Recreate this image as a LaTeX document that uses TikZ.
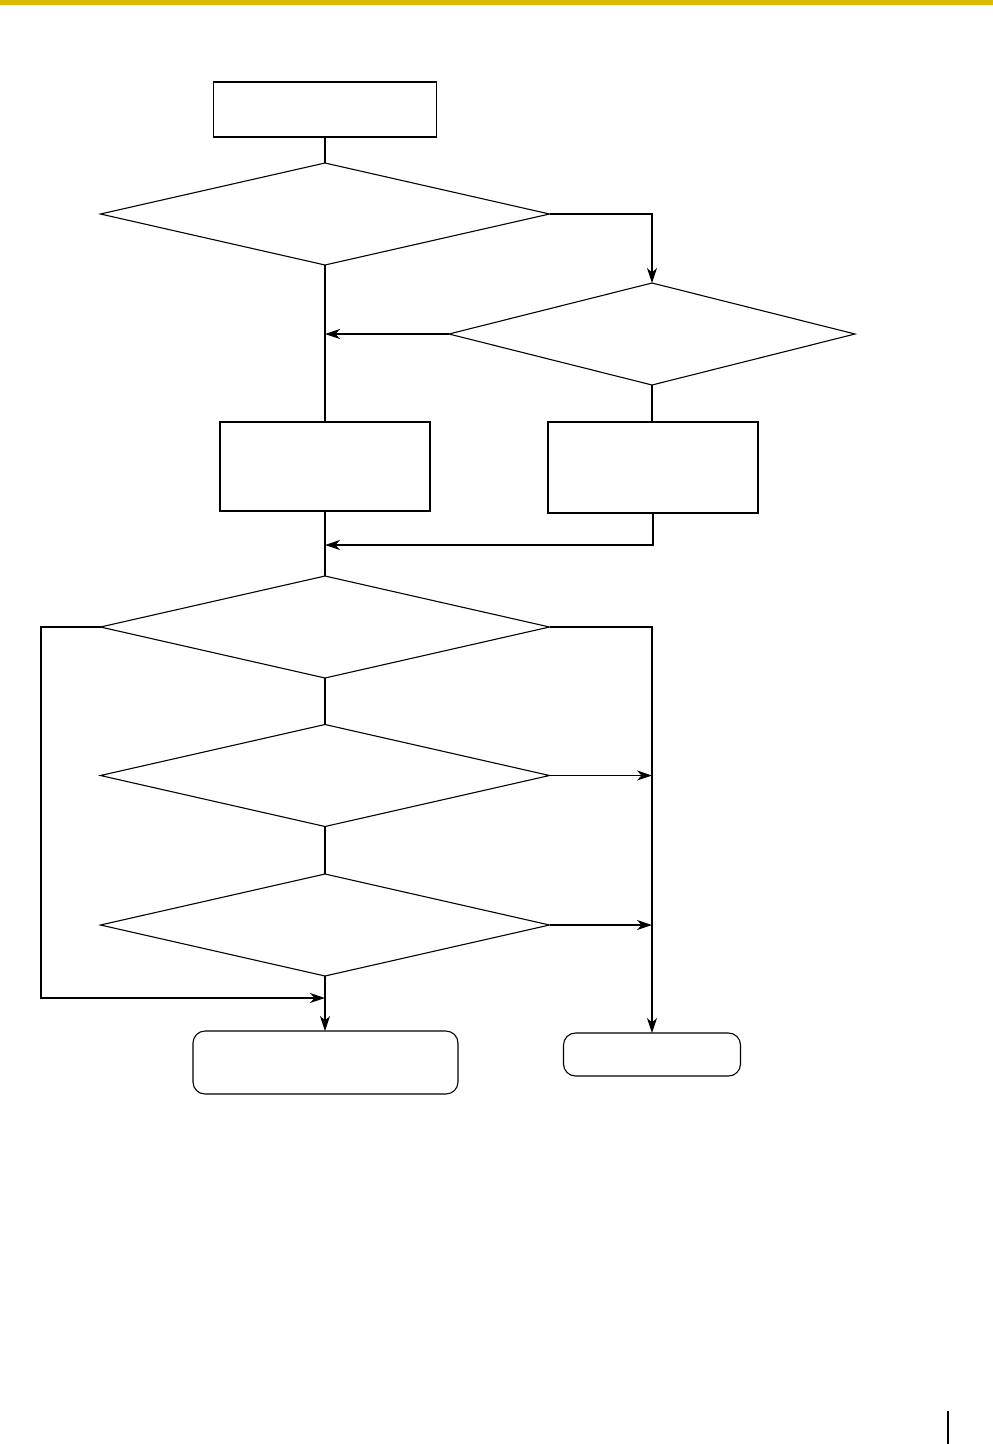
\documentclass[tikz,border=0pt]{standalone}
\usetikzlibrary{shapes.geometric,arrows.meta}
\definecolor{bar}{RGB}{222,183,0}
\begin{document}
\begin{tikzpicture}[x=1pt,y=-1pt,
  every node/.style={draw,line width=1.1pt,inner sep=0pt,outer sep=0pt},
  dec/.style={diamond,minimum width=449pt,minimum height=102pt},
  proc/.style={rectangle},
  term/.style={rectangle,rounded corners=12pt},
  ln/.style={line width=1.1pt},
  ar/.style={line width=1.1pt,-{Stealth[length=15pt,width=10pt,inset=4.5pt]}}]
\useasboundingbox (0,0) rectangle (993,1444);
\fill[bar] (0,0) rectangle (993,5);
\draw[line width=2pt] (948,1411) -- (948,1444);
% nodes
\node[proc,minimum width=223pt,minimum height=55pt] (start) at (325,109.5) {};
\node[dec] (d1) at (325,214) {};
\node[dec,minimum width=406pt] (d2) at (652,334) {};
\node[proc,minimum width=210pt,minimum height=89pt] (p1) at (325,466.5) {};
\node[proc,minimum width=210pt,minimum height=91pt] (p2) at (653,467.5) {};
\node[dec] (d3) at (325,627) {};
\node[dec] (d4) at (325,775.5) {};
\node[dec] (d5) at (325,925) {};
\node[term,minimum width=265pt,minimum height=63pt] (e1) at (325.5,1062.5) {};
\node[term,minimum width=177pt,minimum height=43pt] (e2) at (652,1054.5) {};
% joints
\coordinate (j1) at (325,334);
\coordinate (j2) at (325,545);
\coordinate (j3) at (325,998);
\coordinate (r1) at (652,775.5);
\coordinate (r2) at (652,925);
% connectors
\draw[ln] (start.south) -- (d1.north);
\draw[ar] (d1.east) -| (d2.north);
\draw[ar] (d2.west) -- (j1);
\draw[ln] (d1.south) -- (p1.north);
\draw[ln] (d2.south) -- (d2.south |- p2.north);
\draw[ar] (p2.south) |- (j2);
\draw[ln] (p1.south) -- (d3.north);
\draw[ln] (d3.south) -- (d4.north);
\draw[ln] (d4.south) -- (d5.north);
\draw[ar] (d3.west) -- (41,627) |- (j3);
\draw[ar] (d3.east) -| (e2.north);
\draw[ar] (d4.east) -- (r1);
\draw[ar] (d5.east) -- (r2);
\draw[ar] (d5.south) -- (d5.south |- e1.north);
\end{tikzpicture}
\end{document}
